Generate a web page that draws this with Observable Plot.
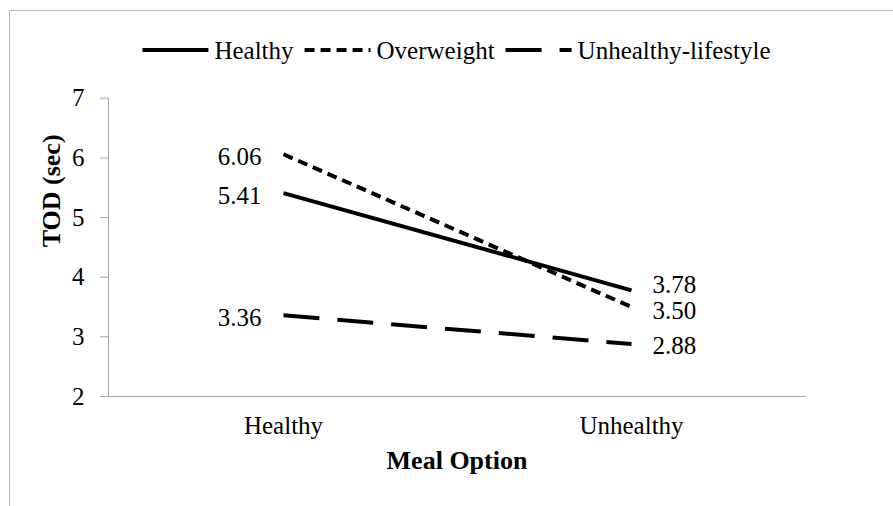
<!DOCTYPE html>
<html>
<head>
<meta charset="utf-8">
<script src="https://cdn.jsdelivr.net/npm/d3@7"></script>
<script src="https://cdn.jsdelivr.net/npm/@observablehq/plot@0.6"></script>
<style>
  html, body { margin: 0; padding: 0; background: #fff; }
  #wrap { position: relative; width: 893px; height: 506px; overflow: hidden; background: #fff; }
  #border { position: absolute; left: 9px; top: 10px; right: -5px; bottom: -5px; border-top: 1px solid #b8b8b8; border-left: 1px solid #b8b8b8; pointer-events: none; }
  #legend { display: block; }
  #chart svg { display: block; }
</style>
</head>
<body>
<div id="wrap">
  <div id="border"></div>
  <svg id="legend" width="893" height="70"></svg>
  <div id="chart"></div>
</div>
<script>
// ---- data ----
const categories = ["Healthy", "Unhealthy"];
const seriesNames = ["Healthy", "Overweight", "Unhealthy-lifestyle"];
const healthyValues = [5.41, 3.78];
const overweightValues = [6.06, 3.50];
const unhealthyLifestyleValues = [3.36, 2.88];
const yTicks = [2, 3, 4, 5, 6, 7];
const xLabel = "Meal Option";
const yLabel = "TOD (sec)";

// ---- styles ----
const FONT = "'Liberation Serif', 'Times New Roman', serif";
const FS = 25;
const dashes = { "Healthy": null, "Overweight": "10,6", "Unhealthy-lifestyle": "36,18" };
const axisGray = "#a6a6a6";

const valuesBySeries = {
  "Healthy": healthyValues,
  "Overweight": overweightValues,
  "Unhealthy-lifestyle": unhealthyLifestyleValues
};
const rows = seriesNames.flatMap(s => categories.map((c, i) => ({ group: s, meal: c, value: valuesBySeries[s][i] })));

const legendH = 70;
const fmt = d3.format(".2f");

const lineMarks = seriesNames.map(s => Plot.line(rows.filter(d => d.group === s), {
  x: "meal", y: "value", stroke: "black", strokeWidth: 4,
  strokeDasharray: dashes[s] || undefined, strokeLinecap: "butt"
}));

const rightLabel = (filter, dy) => Plot.text(rows.filter(d => d.meal === categories[1] && filter(d)), {
  x: "meal", y: "value", text: d => fmt(d.value), textAnchor: "start", dx: 21, dy,
  fontSize: FS, fill: "black"
});

const chart = Plot.plot({
  width: 893,
  height: 506 - legendH,
  marginLeft: 108,
  marginRight: 88,
  marginTop: 97.7 - legendH,
  marginBottom: 110,
  style: { fontFamily: FONT, fontSize: FS + "px", color: "black", background: "white" },
  x: { type: "point", domain: categories, padding: 0.5, axis: null },
  y: { domain: [2, 7], axis: null },
  marks: [
    Plot.frame({ anchor: "left", stroke: axisGray, strokeWidth: 1 }),
    Plot.frame({ anchor: "bottom", stroke: axisGray, strokeWidth: 1 }),
    Plot.axisY(yTicks, { tickSize: 8, tickPadding: 16, stroke: axisGray, fill: "black", fontSize: FS, label: null, tickFormat: d => String(d) }),
    Plot.axisX(categories, { tickSize: 0, tickPadding: 20, fill: "black", fontSize: FS, label: null }),
    ...lineMarks,
    Plot.text(rows.filter(d => d.meal === categories[0]), {
      x: "meal", y: "value", text: d => fmt(d.value), textAnchor: "end", dx: -22, dy: 3,
      fontSize: FS, fill: "black"
    }),
    rightLabel(d => d.group === "Healthy", -5),
    rightLabel(d => d.group === "Overweight", 4),
    rightLabel(d => d.group === "Unhealthy-lifestyle", 2),
    Plot.text([xLabel], { frameAnchor: "bottom", dy: 72, fontWeight: "bold", fontSize: 26, fill: "black" }),
    Plot.text([yLabel], { frameAnchor: "left", dx: -57, rotate: -90, fontWeight: "bold", fontSize: 26, fill: "black" })
  ]
});
document.getElementById("chart").appendChild(chart);

// ---- legend ----
const lg = d3.select("#legend");
const swatchW = 66, gapSwatchText = 6, gapItems = 11, ly = 50;
const items = seriesNames.map(s => {
  const g = lg.append("g");
  g.append("line").attr("x1", 0).attr("x2", swatchW).attr("y1", ly).attr("y2", ly)
    .attr("stroke", "black").attr("stroke-width", 4)
    .attr("stroke-dasharray", dashes[s]);
  const t = g.append("text").attr("x", swatchW + gapSwatchText).attr("y", ly).attr("dy", "0.35em")
    .attr("font-family", FONT).attr("font-size", FS).attr("fill", "black").text(s);
  const w = swatchW + gapSwatchText + t.node().getComputedTextLength();
  return { g, w };
});
const total = d3.sum(items, d => d.w) + gapItems * (items.length - 1);
let x0 = (108 + (893 - 88)) / 2 - total / 2;
items.forEach(it => { it.g.attr("transform", `translate(${x0},0)`); x0 += it.w + gapItems; });
</script>
</body>
</html>
